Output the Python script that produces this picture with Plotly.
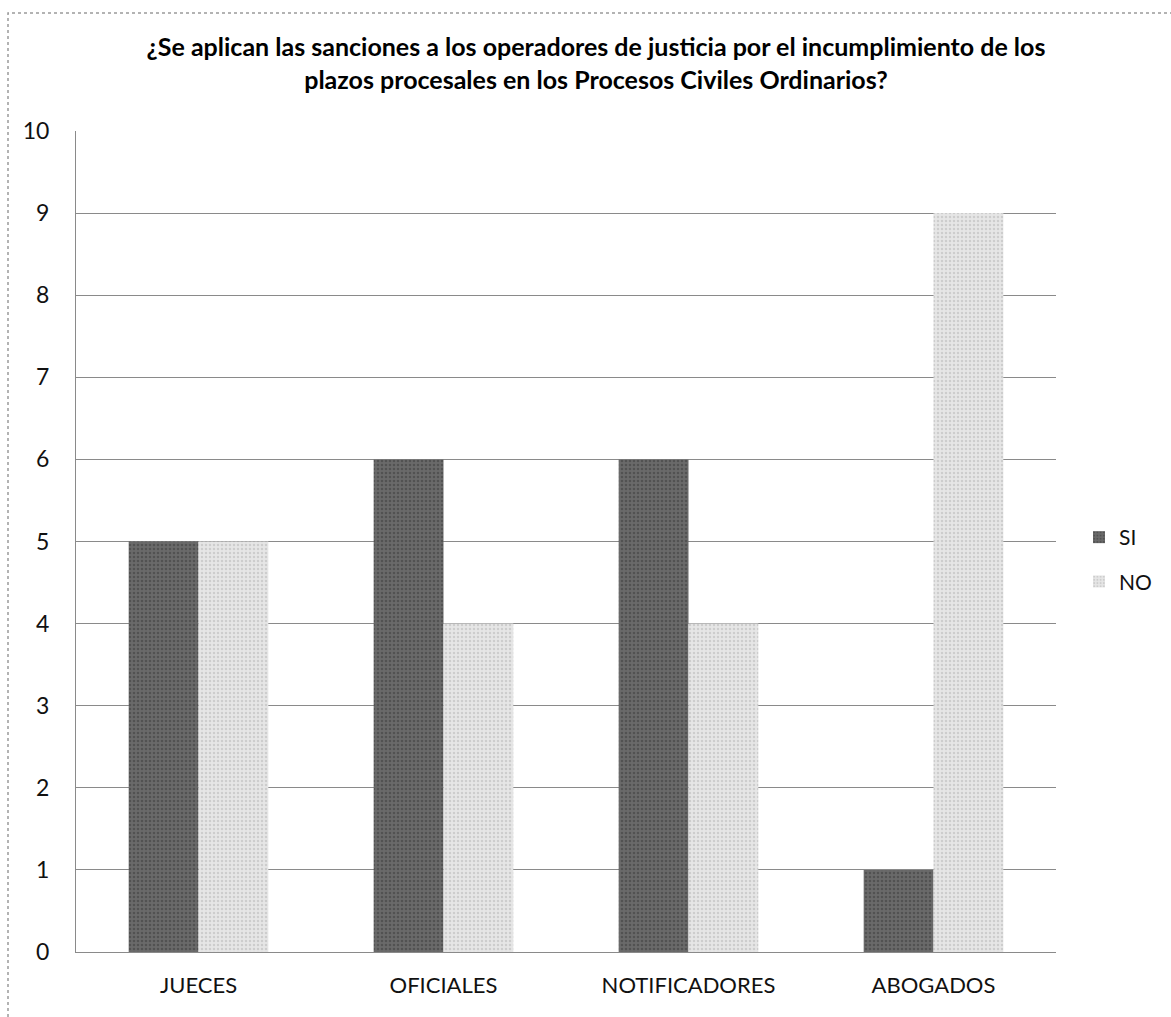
import plotly.graph_objects as go

categories = ["JUECES", "OFICIALES", "NOTIFICADORES", "ABOGADOS"]
si_values = [5, 6, 6, 1]
no_values = [5, 4, 4, 9]
y_ticks = [0, 1, 2, 3, 4, 5, 6, 7, 8, 9, 10]
title_text = ("¿Se aplican las sanciones a los operadores de justicia por el incumplimiento de los"
              "<br>plazos procesales en los Procesos Civiles Ordinarios?")

W, H = 1171, 1017
L, R, T, B = 76, 115, 131, 65
pw, ph = W - L - R, H - T - B

fig = go.Figure()
fig.add_trace(go.Bar(
    name="SI", x=categories, y=si_values, legendgroup="si",
    marker=dict(color="#5e5e5e", line=dict(width=0),
                pattern=dict(shape=".", fgcolor="#3a3a3a", bgcolor="#6a6a6a", size=4, solidity=0.35)),
))
fig.add_trace(go.Bar(
    name="NO", x=categories, y=no_values, legendgroup="no",
    marker=dict(color="#d8d8d8", line=dict(width=0),
                pattern=dict(shape=".", fgcolor="#b4b4b4", bgcolor="#e6e6e6", size=4, solidity=0.3)),
))

def px_x(p):
    return (p - L) / pw

def px_y(p):
    return (H - B - p) / ph

fig.update_layout(
    width=W, height=H,
    margin=dict(l=L, r=R, t=T, b=B),
    paper_bgcolor="white", plot_bgcolor="white",
    barmode="group", bargap=0.43, bargroupgap=0,
    font=dict(family="Lato, sans-serif", size=21, color="#111"),
    title=dict(text=title_text, x=px_x(596), xref="paper", xanchor="center",
               y=1 - 56 / H, yref="container", yanchor="top",
               font=dict(family="Lato, sans-serif", size=25, color="#000", weight="bold")),
    xaxis=dict(showgrid=False, showline=True, linecolor="#8a8a8a", linewidth=1,
               ticks="", tickfont=dict(size=22), ticklabelstandoff=14),
    yaxis=dict(range=[0, 10], tickvals=y_ticks, showgrid=True, gridcolor="#8a8a8a", gridwidth=1,
               showline=True, linecolor="#8a8a8a", linewidth=1, zeroline=False,
               ticks="", tickfont=dict(size=23), ticklabelstandoff=21),
    legend=dict(x=px_x(1079), y=px_y(517), xanchor="left", yanchor="top",
                font=dict(size=21), traceorder="grouped", tracegroupgap=14,
                bgcolor="rgba(0,0,0,0)"),
    showlegend=True,
    shapes=[dict(type="rect", xref="paper", yref="paper",
                 x0=px_x(8), x1=px_x(1190), y0=px_y(1040), y1=px_y(13),
                 line=dict(color="#9a9a9a", width=1.5, dash="dot"), layer="below")],
)

fig.write_html("out.html")
